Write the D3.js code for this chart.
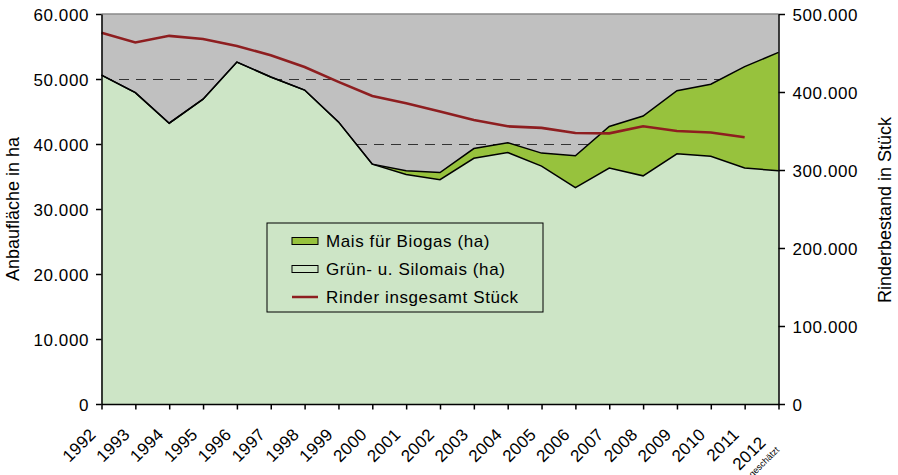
<!DOCTYPE html>
<meta charset="utf-8">
<style>
body { margin: 0; background: #fff; }
text { font-family: Arial, "Liberation Sans", sans-serif; fill: #000; }
.grid { stroke: #333; stroke-width: 1px; stroke-dasharray: 10,7; shape-rendering: crispEdges; }
.outline { fill: none; stroke: #000; stroke-width: 1.5px; }
.rinder { fill: none; stroke: #8e1e20; stroke-width: 2.6px; }
.axis path, .axis line { stroke: #000; stroke-width: 1.5px; }
</style>
<svg width="898" height="475"></svg>
<script src="https://cdn.jsdelivr.net/npm/d3@7"></script>
<script>
var years = [1992, 1993, 1994, 1995, 1996, 1997, 1998, 1999, 2000, 2001, 2002,
             2003, 2004, 2005, 2006, 2007, 2008, 2009, 2010, 2011, 2012];

// Grün- u. Silomais (ha)
var silomais = [50600, 47900, 43200, 46900, 52600, 50300, 48300, 43400, 36900, 35300, 34500,
                37800, 38700, 36600, 33300, 36300, 35100, 38500, 38100, 36300, 35900];
// Mais für Biogas (ha)
var biogas = [0, 0, 0, 0, 0, 0, 0, 0, 0, 600, 1100,
              1500, 1500, 2000, 4900, 6400, 9200, 9700, 11100, 15600, 18200];
// Rinder insgesamt Stück (2012 fehlt)
var rinder = [476000, 463500, 472000, 468000, 459000, 447000, 432000, 413000, 395000, 385500, 375000,
              364000, 356000, 354000, 347500, 347000, 356000, 350000, 348000, 342000, null];

var leftTicks = [0, 10000, 20000, 30000, 40000, 50000, 60000];
var rightTicks = [0, 100000, 200000, 300000, 400000, 500000];

var svg = d3.select("svg"),
    width = 898,
    height = 475;

var de = d3.formatLocale({decimal: ",", thousands: ".", grouping: [3], currency: ["", " €"]});
var fmt = de.format(",");

var x = d3.scalePoint().domain(years).range([101.5, 778.5]);
var yL = d3.scaleLinear().domain([0, 60000]).range([404, 14]);
var yR = d3.scaleLinear().domain([0, 500000]).range([404, 14]);

var table = years.map(function(y, i) {
  return {year: y, silomais: silomais[i], biogas: biogas[i], rinder: rinder[i]};
});

// plot background
svg.append("rect")
    .attr("x", x(1992)).attr("y", yL(60000))
    .attr("width", x(2012) - x(1992)).attr("height", yL(0) - yL(60000))
    .attr("fill", "#c0c0c0");

svg.selectAll(".grid")
    .data(leftTicks.filter(function(d) { return d > 0 && d < 60000; }))
  .enter().append("line")
    .attr("class", "grid")
    .attr("x1", x(1992)).attr("x2", x(2012))
    .attr("y1", function(d) { return yL(d); })
    .attr("y2", function(d) { return yL(d); });

svg.append("line")
    .attr("x1", x(1992)).attr("x2", x(2012))
    .attr("y1", yL(60000)).attr("y2", yL(60000))
    .attr("stroke", "#8a8a8a").attr("stroke-width", 1.5);

var stack = d3.stack().keys(["silomais", "biogas"]);
var layers = stack(table);
var colors = {silomais: "#cde5c6", biogas: "#97c23d"};

var area = d3.area()
    .x(function(d) { return x(d.data.year); })
    .y0(function(d) { return yL(d[0]); })
    .y1(function(d) { return yL(d[1]); });

var topLine = d3.line()
    .x(function(d) { return x(d.data.year); })
    .y(function(d) { return yL(d[1]); });

svg.selectAll(".layer")
    .data(layers)
  .enter().append("path")
    .attr("class", "layer")
    .attr("fill", function(d) { return colors[d.key]; })
    .attr("d", area);

svg.selectAll(".outline")
    .data(layers.slice().reverse())
  .enter().append("path")
    .attr("class", "outline")
    .attr("d", topLine);

var rLine = d3.line()
    .defined(function(d) { return d.rinder != null; })
    .x(function(d) { return x(d.year); })
    .y(function(d) { return yR(d.rinder); });

svg.append("path")
    .datum(table)
    .attr("class", "rinder")
    .attr("d", rLine);

// axes
var gL = svg.append("g")
    .attr("class", "axis")
    .attr("transform", "translate(" + x(1992) + ",0)")
    .call(d3.axisLeft(yL).tickValues(leftTicks).tickFormat(fmt).tickSize(5.5).tickSizeOuter(0).tickPadding(7));

var gR = svg.append("g")
    .attr("class", "axis")
    .attr("transform", "translate(" + x(2012) + ",0)")
    .call(d3.axisRight(yR).tickValues(rightTicks).tickFormat(fmt).tickSize(6.5).tickSizeOuter(0).tickPadding(7.5));

var gB = svg.append("g")
    .attr("class", "axis")
    .attr("transform", "translate(0," + yL(0) + ")")
    .call(d3.axisBottom(x).tickSize(5.5).tickSizeOuter(0).tickFormat(""));

svg.selectAll(".axis .tick text")
    .attr("font-size", 17)
    .attr("letter-spacing", 0.6)
    .attr("font-family", "Arial, 'Liberation Sans', sans-serif")
    .attr("fill", "#000")
    .attr("dy", "0.38em");

gB.selectAll(".tick text").remove();
gB.selectAll(".tick").each(function(d) {
  var t = d3.select(this).append("text")
      .attr("text-anchor", "end")
      .attr("font-size", 17)
      .attr("letter-spacing", 0.3)
      .attr("fill", "#000");
  if (d === 2012) {
    t.attr("transform", "translate(-12,39.5) rotate(-45)");
    t.append("tspan").text(d);
    t.append("tspan").attr("x", 4).attr("dy", 14).attr("font-size", 9)
        .attr("letter-spacing", 0).text("geschätzt");
  } else {
    t.attr("transform", "translate(-5,31.5) rotate(-45)").text(d);
  }
});

// axis titles
svg.append("text")
    .attr("transform", "translate(19,209) rotate(-90)")
    .attr("text-anchor", "middle")
    .attr("font-size", 18)
    .text("Anbaufläche in ha");

svg.append("text")
    .attr("transform", "translate(891,210) rotate(-90)")
    .attr("text-anchor", "middle")
    .attr("font-size", 18)
    .text("Rinderbestand in  Stück");

// legend
var legend = svg.append("g").attr("transform", "translate(267,223)");
legend.append("rect")
    .attr("width", 276).attr("height", 89)
    .attr("fill", "none").attr("stroke", "#000").attr("stroke-width", 1);

var legendItems = [
  {label: "Mais für Biogas (ha)", type: "area", color: colors.biogas},
  {label: "Grün- u. Silomais (ha)", type: "area", color: colors.silomais},
  {label: "Rinder insgesamt Stück", type: "line", color: "#8e1e20"}
];

legendItems.forEach(function(d, i) {
  var row = legend.append("g").attr("transform", "translate(0," + (18 + i * 28) + ")");
  if (d.type === "area") {
    row.append("rect")
        .attr("x", 25).attr("y", -3.5).attr("width", 26).attr("height", 7)
        .attr("fill", d.color).attr("stroke", "#000").attr("stroke-width", 1);
  } else {
    row.append("line")
        .attr("x1", 25).attr("x2", 51)
        .attr("stroke", d.color).attr("stroke-width", 2.5);
  }
  row.append("text")
      .attr("x", 59).attr("y", 6)
      .attr("font-size", 17)
      .attr("letter-spacing", 0.6)
      .text(d.label);
});
</script>
